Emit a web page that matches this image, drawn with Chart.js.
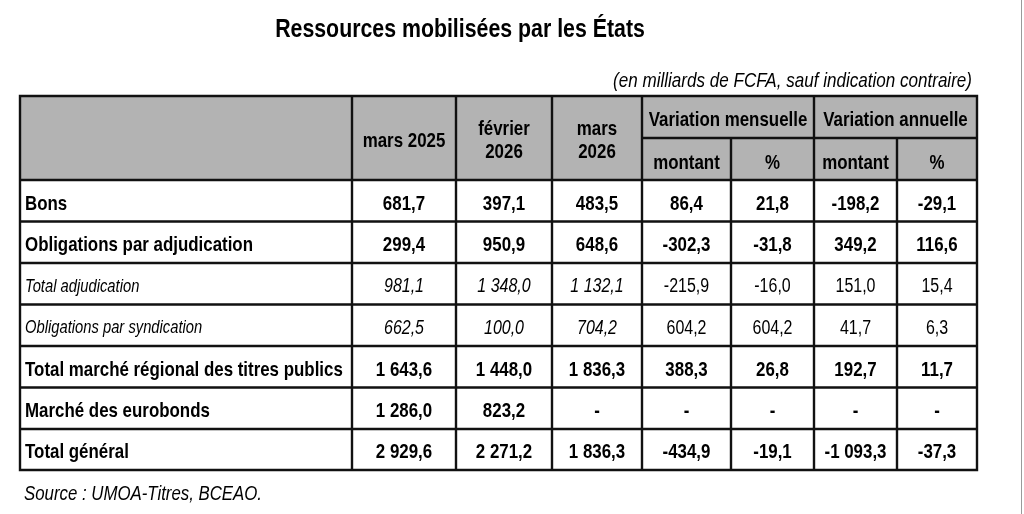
<!DOCTYPE html>
<html><head><meta charset="utf-8">
<script src="https://cdn.jsdelivr.net/npm/chart.js@4.4.1/dist/chart.umd.min.js"></script>
<style>html,body{margin:0;padding:0;background:#fff;overflow:hidden}#wrap{width:1024px;height:514px;position:relative}</style>
</head><body><div id="wrap"><canvas id="c"></canvas></div>
<script>
// ---------- data ----------
const titleText = 'Ressources mobilisées par les États';
const subtitleText = '(en milliards de FCFA, sauf indication contraire)';
const sourceText = 'Source : UMOA-Titres, BCEAO.';
const rowLabels = ['Bons','Obligations par adjudication','Total adjudication','Obligations par syndication','Total marché régional des titres publics','Marché des eurobonds','Total général'];
const headerLabels = ['mars 2025','février\n2026','mars\n2026'];
const groupLabels = ['Variation mensuelle','Variation annuelle'];
const subLabels = ['montant','%','montant','%'];
const mars2025 = [681.7, 299.4, 981.1, 662.5, 1643.6, 1286.0, 2929.6];
const fevrier2026 = [397.1, 950.9, 1348.0, 100.0, 1448.0, 823.2, 2271.2];
const mars2026 = [483.5, 648.6, 1132.1, 704.2, 1836.3, null, 1836.3];
const varMensMontant = [86.4, -302.3, -215.9, 604.2, 388.3, null, -434.9];
const varMensPct = [21.8, -31.8, -16.0, 604.2, 26.8, null, -19.1];
const varAnnMontant = [-198.2, 349.2, 151.0, 41.7, 192.7, null, -1093.3];
const varAnnPct = [-29.1, 116.6, 15.4, 6.3, 11.7, null, -37.3];
const series = [mars2025, fevrier2026, mars2026, varMensMontant, varMensPct, varAnnMontant, varAnnPct];

// ---------- layout & style (frame units = 1024x514) ----------
const colEdges = [20, 352, 456, 552, 642, 731, 814, 897, 977];
const headTop = 96, headMid = 138, headBot = 180;
const rowEdges = [180, 221.5, 263, 304.5, 346, 387.5, 429, 470];
const rowItalic = [false, false, true, true, false, false, false];

function hasFont(name){
  const c = document.createElement('canvas').getContext('2d');
  const s = 'abcdefghijklmnopqrstuvwxyz0123456789ABCDEFG';
  c.font = '40px monospace'; const w1 = c.measureText(s).width;
  c.font = '40px "' + name + '", monospace'; const w2 = c.measureText(s).width;
  return Math.abs(w1 - w2) > 0.5;
}
const NARROW = hasFont('Liberation Sans Narrow');
const FAM = NARROW ? '"Liberation Sans Narrow", "Liberation Sans", sans-serif' : '"Liberation Sans", Arial, sans-serif';
const SX = NARROW ? 1 : 0.82;

function fr(v){
  if (v === null || v === undefined) return '-';
  const neg = v < 0;
  let [i, d] = Math.abs(v).toFixed(1).split('.');
  i = i.replace(/\B(?=(\d{3})+(?!\d))/g, ' ');
  return (neg ? '-' : '') + i + ',' + d;
}

function txt(ctx, t, x, y, font, align){
  ctx.save();
  ctx.font = font;
  ctx.fillStyle = '#000';
  ctx.textBaseline = 'alphabetic';
  ctx.textAlign = align || 'center';
  ctx.translate(x, y);
  ctx.scale(SX, 1);
  ctx.fillText(t, 0, 0);
  ctx.restore();
}
function base(cy, fs){ return cy + 0.358 * fs + 1.5; }

// datasets: one per column, points at the cell centres
const cy = rowLabels.map((_, i) => (rowEdges[i] + rowEdges[i + 1]) / 2);
const datasets = [{
  label: 'labels',
  data: rowLabels.map((_, i) => ({x: colEdges[0] + 5, y: cy[i]})),
  pointRadius: 0, showLine: false
}].concat(series.map((s, j) => ({
  label: 'col' + j,
  data: s.map((v, i) => ({x: (colEdges[j + 1] + colEdges[j + 2]) / 2, y: cy[i]})),
  pointRadius: 0, showLine: false
})));

const tablePlugin = {
  id: 'table',
  beforeDatasetsDraw(chart){
    const ctx = chart.ctx, X = chart.scales.x, Y = chart.scales.y;
    const px = v => X.getPixelForValue(v), py = v => Y.getPixelForValue(v);
    // header fill
    ctx.save();
    ctx.fillStyle = '#b3b3b3';
    ctx.fillRect(px(colEdges[0]), py(headTop), px(colEdges[8]) - px(colEdges[0]), py(headBot) - py(headTop));
    ctx.strokeStyle = '#111'; ctx.lineWidth = 2.4; ctx.lineCap = 'square';
    ctx.beginPath();
    // horizontal lines
    ctx.moveTo(px(colEdges[0]), py(headTop)); ctx.lineTo(px(colEdges[8]), py(headTop));
    ctx.moveTo(px(colEdges[4]), py(headMid)); ctx.lineTo(px(colEdges[8]), py(headMid));
    rowEdges.forEach(r => { ctx.moveTo(px(colEdges[0]), py(r)); ctx.lineTo(px(colEdges[8]), py(r)); });
    // vertical lines
    colEdges.forEach((c, k) => {
      const top = (k === 5 || k === 7) ? headMid : headTop;
      ctx.moveTo(px(c), py(top)); ctx.lineTo(px(c), py(rowEdges[rowEdges.length - 1]));
    });
    ctx.stroke();
    // faint frame line on the right
    ctx.strokeStyle = '#9a9a9a'; ctx.lineWidth = 1;
    ctx.beginPath(); ctx.moveTo(px(1021.5), py(0)); ctx.lineTo(px(1021.5), py(514)); ctx.stroke();
    ctx.restore();
  },
  afterDatasetsDraw(chart){
    const ctx = chart.ctx, X = chart.scales.x, Y = chart.scales.y;
    const px = v => X.getPixelForValue(v), py = v => Y.getPixelForValue(v);
    const B = fs => 'bold ' + fs + 'px ' + FAM;
    const I = fs => 'italic ' + fs + 'px ' + FAM;
    const R = fs => fs + 'px ' + FAM;
    // titles
    txt(ctx, titleText, px(460), py(37), B(26));
    txt(ctx, subtitleText, px(972), py(87), I(20.8), 'right');
    txt(ctx, sourceText, px(24), py(500), I(20.5), 'left');
    // header
    const hf = 20.6;
    headerLabels.forEach((h, j) => {
      const cx = px((colEdges[j + 1] + colEdges[j + 2]) / 2);
      const lines = h.split('\n');
      const c = (headTop + headBot) / 2;
      lines.forEach((l, k) => {
        const off = (k - (lines.length - 1) / 2) * 23;
        txt(ctx, l, cx, py(base(c + off, hf)), B(hf));
      });
    });
    groupLabels.forEach((g, k) => {
      const cx = px((colEdges[4 + 2 * k] + colEdges[6 + 2 * k]) / 2);
      txt(ctx, g, cx, py(base((headTop + headMid) / 2, hf)), B(hf));
    });
    subLabels.forEach((s, k) => {
      const cx = px((colEdges[4 + k] + colEdges[5 + k]) / 2);
      txt(ctx, s, cx, py(base((headMid + headBot) / 2, hf) + 1), B(hf));
    });
    // body
    chart.data.datasets.forEach((ds, di) => {
      const meta = chart.getDatasetMeta(di);
      meta.data.forEach((el, i) => {
        const it = rowItalic[i];
        if (di === 0) {
          const fs = it ? 18 : 20.6;
          txt(ctx, rowLabels[i], el.x, base(el.y, fs), it ? I(fs) : B(fs), 'left');
        } else {
          const j = di - 1;
          const v = series[j][i];
          let font;
          if (!it) font = B(20.6);
          else font = j < 3 ? I(19.5) : R(19.5);
          txt(ctx, fr(v), el.x, base(el.y, it ? 19.5 : 20.6), font, 'center');
        }
      });
    });
  }
};

new Chart(document.getElementById('c'), {
  type: 'scatter',
  data: {datasets},
  options: {
    responsive: true, maintainAspectRatio: false, animation: false,
    devicePixelRatio: 1,
    layout: {padding: 0},
    events: [],
    plugins: {legend: {display: false}, tooltip: {enabled: false}, title: {display: false}},
    scales: {
      x: {type: 'linear', min: 0, max: 1024, display: false},
      y: {type: 'linear', min: 0, max: 514, reverse: true, display: false}
    }
  },
  plugins: [tablePlugin]
});
</script></body></html>
